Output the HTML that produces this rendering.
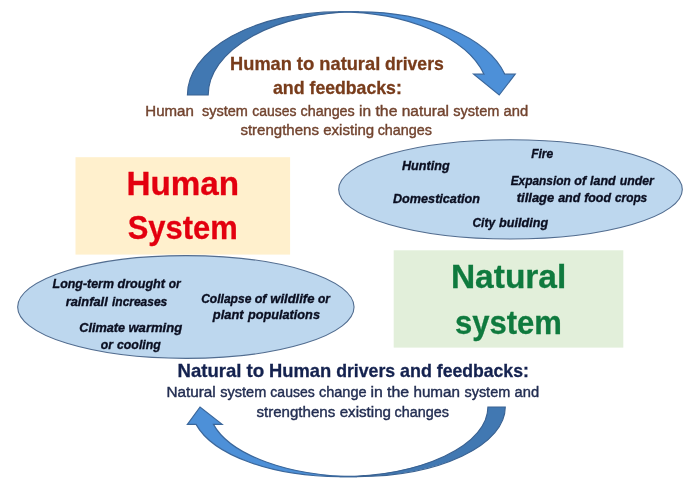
<!DOCTYPE html>
<html lang="en">
<head>
<meta charset="utf-8">
<title>Human and natural system drivers and feedbacks</title>
<style>
html,body{margin:0;padding:0;background:#fff;}
body{width:700px;height:480px;overflow:hidden;}
svg{display:block;}
text{font-family:"Liberation Sans", sans-serif;}
.b{font-weight:bold;}
.bi{font-weight:bold;font-style:italic;}
.r{font-weight:normal;}
</style>
</head>
<body>
<svg width="700" height="480" viewBox="0 0 700 480">
<rect x="0" y="0" width="700" height="480" fill="#ffffff"/>
<defs><filter id="soft" x="-5%" y="-5%" width="110%" height="110%" color-interpolation-filters="sRGB"><feGaussianBlur stdDeviation="0.45"/></filter></defs>
<g filter="url(#soft)">
<rect x="75.5" y="157.2" width="214.6" height="97.4" fill="#fff0cd"/>
<rect x="393.7" y="250.3" width="229.6" height="97.3" fill="#e2efda"/>
<ellipse cx="510.5" cy="189.4" rx="171.8" ry="49.6" fill="#bdd7ee" stroke="#526d90" stroke-width="1.1"/>
<ellipse cx="185.85" cy="307" rx="168.2" ry="51.4" fill="#bdd7ee" stroke="#526d90" stroke-width="1.1"/>
<path d="M187.40,95.00 A150.70,83.20 0 0 1 338.10,11.80 L358.90,11.80 A150.70,83.20 0 0 0 208.20,95.00 Z" fill="#4178b2" stroke="#3a6292" stroke-width="1.1" stroke-linejoin="miter"/>
<path d="M338.10,11.80 L358.90,11.80 A150.70,83.20 0 0 1 504.81,74.20 L515.21,74.20 L499.20,95.00 L473.61,74.20 L484.01,74.20 A150.70,83.20 0 0 0 338.10,11.80 Z" fill="#4d90d8" stroke="#3b679b" stroke-width="1.2" stroke-linejoin="miter"/>
<path d="M505.30,407.00 A148.27,69.60 0 0 1 357.02,476.60 L339.62,476.60 A148.27,69.60 0 0 0 487.90,407.00 Z" fill="#4178b2" stroke="#3a6292" stroke-width="1.1" stroke-linejoin="miter"/>
<path d="M357.02,476.60 L339.62,476.60 A148.27,69.60 0 0 1 196.06,424.40 L187.36,424.40 L200.05,407.00 L222.16,424.40 L213.46,424.40 A148.27,69.60 0 0 0 357.02,476.60 Z" fill="#4d90d8" stroke="#3b679b" stroke-width="1.2" stroke-linejoin="miter"/>
<text class="b" y="69.80" font-size="18.1" fill="#783c1b" stroke="#783c1b" stroke-width="0.3"><tspan x="230.11" textLength="61.75" lengthAdjust="spacingAndGlyphs">Human</tspan> <tspan x="296.73" textLength="17.54" lengthAdjust="spacingAndGlyphs">to</tspan> <tspan x="319.32" textLength="60.91" lengthAdjust="spacingAndGlyphs">natural</tspan> <tspan x="385.11" textLength="58.66" lengthAdjust="spacingAndGlyphs">drivers</tspan></text>
<text class="b" y="94.30" font-size="18.1" fill="#783c1b" stroke="#783c1b" stroke-width="0.3"><tspan x="272.88" textLength="31.73" lengthAdjust="spacingAndGlyphs">and</tspan> <tspan x="309.53" textLength="92.29" lengthAdjust="spacingAndGlyphs">feedbacks:</tspan></text>
<text class="r" y="115.80" font-size="14.55" fill="#72442f" stroke="#72442f" stroke-width="0.4"><tspan x="145.31" textLength="48.60" lengthAdjust="spacingAndGlyphs">Human</tspan> <tspan x="201.98" textLength="45.93" lengthAdjust="spacingAndGlyphs">system</tspan> <tspan x="252.28" textLength="44.21" lengthAdjust="spacingAndGlyphs">causes</tspan> <tspan x="300.51" textLength="54.28" lengthAdjust="spacingAndGlyphs">changes</tspan> <tspan x="359.04" textLength="12.08" lengthAdjust="spacingAndGlyphs">in</tspan> <tspan x="375.47" textLength="21.95" lengthAdjust="spacingAndGlyphs">the</tspan> <tspan x="401.76" textLength="47.29" lengthAdjust="spacingAndGlyphs">natural</tspan> <tspan x="453.25" textLength="46.19" lengthAdjust="spacingAndGlyphs">system</tspan> <tspan x="503.62" textLength="24.61" lengthAdjust="spacingAndGlyphs">and</tspan></text>
<text class="r" y="135.30" font-size="14.55" fill="#72442f" stroke="#72442f" stroke-width="0.4"><tspan x="240.40" textLength="78.56" lengthAdjust="spacingAndGlyphs">strengthens</tspan> <tspan x="323.21" textLength="51.01" lengthAdjust="spacingAndGlyphs">existing</tspan> <tspan x="377.63" textLength="54.36" lengthAdjust="spacingAndGlyphs">changes</tspan></text>
<text class="b" y="194.90" font-size="32.4" fill="#e3000f" stroke="#e3000f" stroke-width="0.3"><tspan x="126.43" textLength="112.69" lengthAdjust="spacingAndGlyphs">Human</tspan></text>
<text class="b" y="239.30" font-size="32.4" fill="#e3000f" stroke="#e3000f" stroke-width="0.3"><tspan x="127.73" textLength="109.91" lengthAdjust="spacingAndGlyphs">System</tspan></text>
<text class="b" y="288.30" font-size="32.4" fill="#0f7a3e" stroke="#0f7a3e" stroke-width="0.3"><tspan x="450.92" textLength="115.41" lengthAdjust="spacingAndGlyphs">Natural</tspan></text>
<text class="b" y="333.80" font-size="32.4" fill="#0f7a3e" stroke="#0f7a3e" stroke-width="0.3"><tspan x="454.97" textLength="106.87" lengthAdjust="spacingAndGlyphs">system</tspan></text>
<text class="bi" y="170.10" font-size="13.4" fill="#0a0e20" stroke="#0a0e20" stroke-width="0.35"><tspan x="402.00" textLength="47.65" lengthAdjust="spacingAndGlyphs">Hunting</tspan></text>
<text class="bi" y="158.40" font-size="13.4" fill="#0a0e20" stroke="#0a0e20" stroke-width="0.35"><tspan x="531.15" textLength="22.11" lengthAdjust="spacingAndGlyphs">Fire</tspan></text>
<text class="bi" y="203.00" font-size="13.4" fill="#0a0e20" stroke="#0a0e20" stroke-width="0.35"><tspan x="393.00" textLength="87.05" lengthAdjust="spacingAndGlyphs">Domestication</tspan></text>
<text class="bi" y="184.90" font-size="13.4" fill="#0a0e20" stroke="#0a0e20" stroke-width="0.35"><tspan x="510.65" textLength="60.15" lengthAdjust="spacingAndGlyphs">Expansion</tspan> <tspan x="574.32" textLength="11.80" lengthAdjust="spacingAndGlyphs">of</tspan> <tspan x="590.11" textLength="25.55" lengthAdjust="spacingAndGlyphs">land</tspan> <tspan x="619.72" textLength="34.20" lengthAdjust="spacingAndGlyphs">under</tspan></text>
<text class="bi" y="202.10" font-size="13.4" fill="#0a0e20" stroke="#0a0e20" stroke-width="0.35"><tspan x="516.75" textLength="37.50" lengthAdjust="spacingAndGlyphs">tillage</tspan> <tspan x="558.17" textLength="22.18" lengthAdjust="spacingAndGlyphs">and</tspan> <tspan x="584.15" textLength="26.86" lengthAdjust="spacingAndGlyphs">food</tspan> <tspan x="614.96" textLength="32.25" lengthAdjust="spacingAndGlyphs">crops</tspan></text>
<text class="bi" y="227.00" font-size="13.4" fill="#0a0e20" stroke="#0a0e20" stroke-width="0.35"><tspan x="472.46" textLength="22.59" lengthAdjust="spacingAndGlyphs">City</tspan> <tspan x="499.11" textLength="48.98" lengthAdjust="spacingAndGlyphs">building</tspan></text>
<text class="bi" y="288.30" font-size="13.4" fill="#0a0e20" stroke="#0a0e20" stroke-width="0.35"><tspan x="52.55" textLength="61.42" lengthAdjust="spacingAndGlyphs">Long-term</tspan> <tspan x="117.56" textLength="47.44" lengthAdjust="spacingAndGlyphs">drought</tspan> <tspan x="168.78" textLength="11.95" lengthAdjust="spacingAndGlyphs">or</tspan></text>
<text class="bi" y="305.50" font-size="13.4" fill="#0a0e20" stroke="#0a0e20" stroke-width="0.35"><tspan x="65.65" textLength="42.08" lengthAdjust="spacingAndGlyphs">rainfall</tspan> <tspan x="111.99" textLength="55.27" lengthAdjust="spacingAndGlyphs">increases</tspan></text>
<text class="bi" y="331.50" font-size="13.4" fill="#0a0e20" stroke="#0a0e20" stroke-width="0.35"><tspan x="79.29" textLength="45.86" lengthAdjust="spacingAndGlyphs">Climate</tspan> <tspan x="128.45" textLength="53.81" lengthAdjust="spacingAndGlyphs">warming</tspan></text>
<text class="bi" y="348.70" font-size="13.4" fill="#0a0e20" stroke="#0a0e20" stroke-width="0.35"><tspan x="100.76" textLength="12.19" lengthAdjust="spacingAndGlyphs">or</tspan> <tspan x="116.99" textLength="43.84" lengthAdjust="spacingAndGlyphs">cooling</tspan></text>
<text class="bi" y="302.50" font-size="13.4" fill="#0a0e20" stroke="#0a0e20" stroke-width="0.35"><tspan x="201.14" textLength="50.22" lengthAdjust="spacingAndGlyphs">Collapse</tspan> <tspan x="254.74" textLength="11.79" lengthAdjust="spacingAndGlyphs">of</tspan> <tspan x="270.34" textLength="44.09" lengthAdjust="spacingAndGlyphs">wildlife</tspan> <tspan x="317.92" textLength="11.96" lengthAdjust="spacingAndGlyphs">or</tspan></text>
<text class="bi" y="319.20" font-size="13.4" fill="#0a0e20" stroke="#0a0e20" stroke-width="0.35"><tspan x="212.84" textLength="30.79" lengthAdjust="spacingAndGlyphs">plant</tspan> <tspan x="247.93" textLength="72.03" lengthAdjust="spacingAndGlyphs">populations</tspan></text>
<text class="b" y="376.50" font-size="18.1" fill="#14224f" stroke="#14224f" stroke-width="0.3"><tspan x="177.61" textLength="63.90" lengthAdjust="spacingAndGlyphs">Natural</tspan> <tspan x="246.43" textLength="17.77" lengthAdjust="spacingAndGlyphs">to</tspan> <tspan x="269.03" textLength="62.18" lengthAdjust="spacingAndGlyphs">Human</tspan> <tspan x="336.13" textLength="59.02" lengthAdjust="spacingAndGlyphs">drivers</tspan> <tspan x="400.08" textLength="31.82" lengthAdjust="spacingAndGlyphs">and</tspan> <tspan x="436.79" textLength="92.06" lengthAdjust="spacingAndGlyphs">feedbacks:</tspan></text>
<text class="r" y="397.00" font-size="14.55" fill="#232e52" stroke="#232e52" stroke-width="0.4"><tspan x="166.46" textLength="49.32" lengthAdjust="spacingAndGlyphs">Natural</tspan> <tspan x="220.24" textLength="46.02" lengthAdjust="spacingAndGlyphs">system</tspan> <tspan x="270.36" textLength="44.31" lengthAdjust="spacingAndGlyphs">causes</tspan> <tspan x="318.91" textLength="47.71" lengthAdjust="spacingAndGlyphs">change</tspan> <tspan x="370.58" textLength="12.32" lengthAdjust="spacingAndGlyphs">in</tspan> <tspan x="386.98" textLength="22.12" lengthAdjust="spacingAndGlyphs">the</tspan> <tspan x="413.42" textLength="46.63" lengthAdjust="spacingAndGlyphs">human</tspan> <tspan x="464.45" textLength="45.77" lengthAdjust="spacingAndGlyphs">system</tspan> <tspan x="514.64" textLength="24.53" lengthAdjust="spacingAndGlyphs">and</tspan></text>
<text class="r" y="416.50" font-size="14.55" fill="#232e52" stroke="#232e52" stroke-width="0.4"><tspan x="256.40" textLength="78.95" lengthAdjust="spacingAndGlyphs">strengthens</tspan> <tspan x="339.70" textLength="51.30" lengthAdjust="spacingAndGlyphs">existing</tspan> <tspan x="394.52" textLength="54.48" lengthAdjust="spacingAndGlyphs">changes</tspan></text>
</g>
</svg>
</body>
</html>
